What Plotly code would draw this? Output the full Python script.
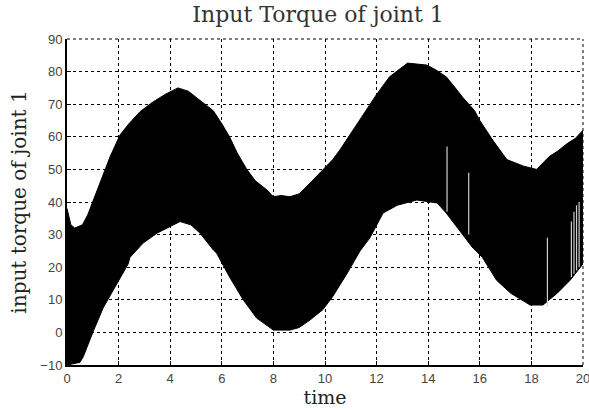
import plotly.graph_objects as go

# Envelope of the chattering input torque signal (upper and lower bounds)
t_upper = [0.0, 0.15, 0.3, 0.6, 0.8, 1.0, 1.16, 1.4, 1.67, 2.05, 2.4, 2.83, 3.3, 3.8, 4.3, 4.7, 5.2, 5.67, 6.0, 6.3, 6.6, 6.97, 7.3, 7.75, 8.0, 8.3, 8.64, 9.0, 9.42, 9.92, 10.3, 10.58, 11.1, 11.5, 12.0, 12.5, 13.2, 13.95, 14.3, 14.7, 15.0, 15.35, 15.8, 16.0, 16.5, 17.05, 17.7, 18.2, 18.7, 19.0, 19.4, 19.7, 20.0]
upper = [38, 33, 32, 33, 36, 40, 43.7, 48, 53.9, 60.5, 64, 67.7, 70.5, 73, 75, 74, 71, 68, 64, 60, 55, 50, 46.5, 43.7, 41.6, 42, 41.6, 42.5, 45.8, 50, 53, 56, 62, 67, 73, 78.4, 82.6, 82, 80.5, 78.4, 75.5, 72, 68, 65, 59, 53, 51, 50, 54, 55.5, 58, 59.5, 62]

t_lower = [0.0, 0.3, 0.5, 0.63, 0.8, 1.0, 1.4, 1.93, 2.37, 2.44, 2.95, 3.5, 4.0, 4.38, 4.8, 5.15, 5.67, 5.8, 6.3, 6.83, 7.35, 8.0, 8.64, 9.0, 9.42, 9.92, 10.3, 10.85, 11.36, 11.74, 12.25, 12.8, 13.56, 14.35, 14.7, 15.2, 15.7, 16.1, 16.65, 17.2, 17.95, 18.45, 19.0, 19.5, 19.9, 20.0]
lower = [-10, -9.4, -9.2, -7.5, -4, 0, 7.5, 15, 21, 23, 27.4, 30.5, 32.5, 34, 33, 30.5, 25.3, 24.3, 17, 10, 4.4, 0.7, 0.7, 1.5, 3.8, 7, 11, 18, 25, 29, 36.6, 39, 40.6, 39.7, 36.6, 31.4, 26.2, 23, 16, 12, 8.4, 8.4, 12, 16, 20, 21]

# Short dropouts in the signal: time, top value, bottom value
gap_t = [14.73, 15.57, 18.62, 19.55, 19.65, 19.75, 19.85]
gap_top = [57, 49, 29, 34, 37, 39, 40]
gap_bottom = [37, 30, 8, 17, 18, 19, 20]

fig = go.Figure()

fig.add_trace(go.Scatter(
    x=t_lower, y=lower, mode="lines",
    line=dict(color="black", width=1), showlegend=False, hoverinfo="skip",
))
fig.add_trace(go.Scatter(
    x=t_upper, y=upper, mode="lines", fill="tonexty",
    fillcolor="black", line=dict(color="black", width=1),
    showlegend=False, hoverinfo="skip",
))

# Dropout lines drawn as light vertical strokes
gx, gy = [], []
for t, a, b in zip(gap_t, gap_top, gap_bottom):
    gx += [t, t, None]
    gy += [a, b, None]
fig.add_trace(go.Scatter(
    x=gx, y=gy, mode="lines", line=dict(color="#cfcfcf", width=1.2),
    showlegend=False, hoverinfo="skip",
))

grid_style = dict(showgrid=True, gridcolor="black", gridwidth=1, griddash="3px,3px")
tick_font = dict(family="Liberation Sans, Arial, sans-serif", size=13, color="#444444")
serif = "DejaVu Serif, Liberation Serif, serif"

fig.update_xaxes(
    range=[0, 20], tickmode="linear", tick0=0, dtick=2,
    showline=True, linecolor="black", linewidth=2, mirror=False,
    ticks="inside", ticklen=4, tickcolor="black", tickfont=tick_font,
    zeroline=False, ticklabeloverflow="allow", automargin=False,
    title=dict(text="time", font=dict(family=serif, size=19, color="#222222"), standoff=2),
    **grid_style,
)
fig.update_yaxes(
    range=[-10, 90], tickmode="linear", tick0=-10, dtick=10,
    showline=True, linecolor="black", linewidth=2, mirror=False,
    ticks="inside", ticklen=4, tickcolor="black", tickfont=tick_font,
    zeroline=False, automargin=False,
    title=dict(text="input torque of joint 1", font=dict(family=serif, size=20, color="#222222"), standoff=8),
    **grid_style,
)

# Dashed frame lines on the top and right edges of the plotting area
edge = dict(color="black", width=1, dash="3px,3px")
fig.add_shape(type="line", xref="paper", yref="paper", x0=0, x1=1, y0=1, y1=1, line=edge)
fig.add_shape(type="line", xref="paper", yref="paper", x0=1, x1=1, y0=0, y1=1, line=edge)

fig.update_layout(
    width=589, height=410,
    margin=dict(l=67, r=6, t=39, b=45),
    paper_bgcolor="white", plot_bgcolor="white",
    title=dict(text="Input Torque of joint 1", x=0.54, xanchor="center", y=0.985, yanchor="top",
               font=dict(family=serif, size=22, color="#333333")),
)

fig.write_html("out.html")
